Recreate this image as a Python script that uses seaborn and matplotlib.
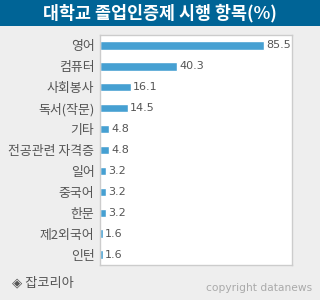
import matplotlib
matplotlib.use("Agg")
import matplotlib.pyplot as plt
import seaborn as sns
import pandas as pd
from matplotlib.patches import Rectangle

categories = ["영어", "컴퓨터", "사회봉사", "독서(작문)", "기타", "전공관련 자격증",
              "일어", "중국어", "한문", "제2외국어", "인턴"]
values = [85.5, 40.3, 16.1, 14.5, 4.8, 4.8, 3.2, 3.2, 3.2, 1.6, 1.6]
title = "대학교 졸업인증제 시행 항목(%)"

sns.set_theme(style="white")
plt.rcParams['font.family'] = ['Noto Sans CJK KR', 'DejaVu Sans']

df = pd.DataFrame({"cat": categories, "val": values})

fig = plt.figure(figsize=(3.2, 3.0), dpi=100, facecolor="#eeeeee")
ax = fig.add_axes([100/320, 35/300, 192/320, 230/300])
ax.set_facecolor("white")

sns.barplot(data=df, x="val", y="cat", orient="h", color="#46a0d2",
            width=0.4, saturation=1, ax=ax)

ax.set_xlim(0, 100)
ax.set_ylim(len(categories) - 0.5, -0.5)
ax.set_xlabel("")
ax.set_ylabel("")
ax.set_xticks([])

for i, v in enumerate(values):
    ax.text(v + 1.0, i, f"{v}", va="center", ha="left", fontsize=8,
            color="#555555", family=["DejaVu Sans"])

ax.tick_params(axis="y", which="major", length=0, pad=4, labelsize=9.3,
               labelcolor="#555555")
ax.set_yticks([i + 0.5 for i in range(len(categories) - 1)], minor=True)
ax.tick_params(axis="y", which="minor", length=5, width=1, color="#aaaaaa",
               direction="in")

for s in ax.spines.values():
    s.set_color("#cccccc")
    s.set_linewidth(1)
    s.set_visible(True)

# title bar
fig.patches.append(Rectangle((0, 1 - 26/300), 1, 26/300, transform=fig.transFigure,
                             facecolor="#006496", edgecolor="none", zorder=0))
fig.text(0.5, 1 - 13/300, title, ha="center", va="center", color="white",
         fontsize=12.5, fontweight="bold")

fig.text(12/320, 1 - 283/300, "◈ 잡코리아", ha="left", va="center",
         color="#555555", fontsize=9.5)
fig.text(312/320, 1 - 288/300, "copyright datanews", ha="right", va="center",
         color="#aaaaaa", fontsize=7.7, family=["DejaVu Sans"])

fig.savefig("out.png", dpi=100, facecolor=fig.get_facecolor())
